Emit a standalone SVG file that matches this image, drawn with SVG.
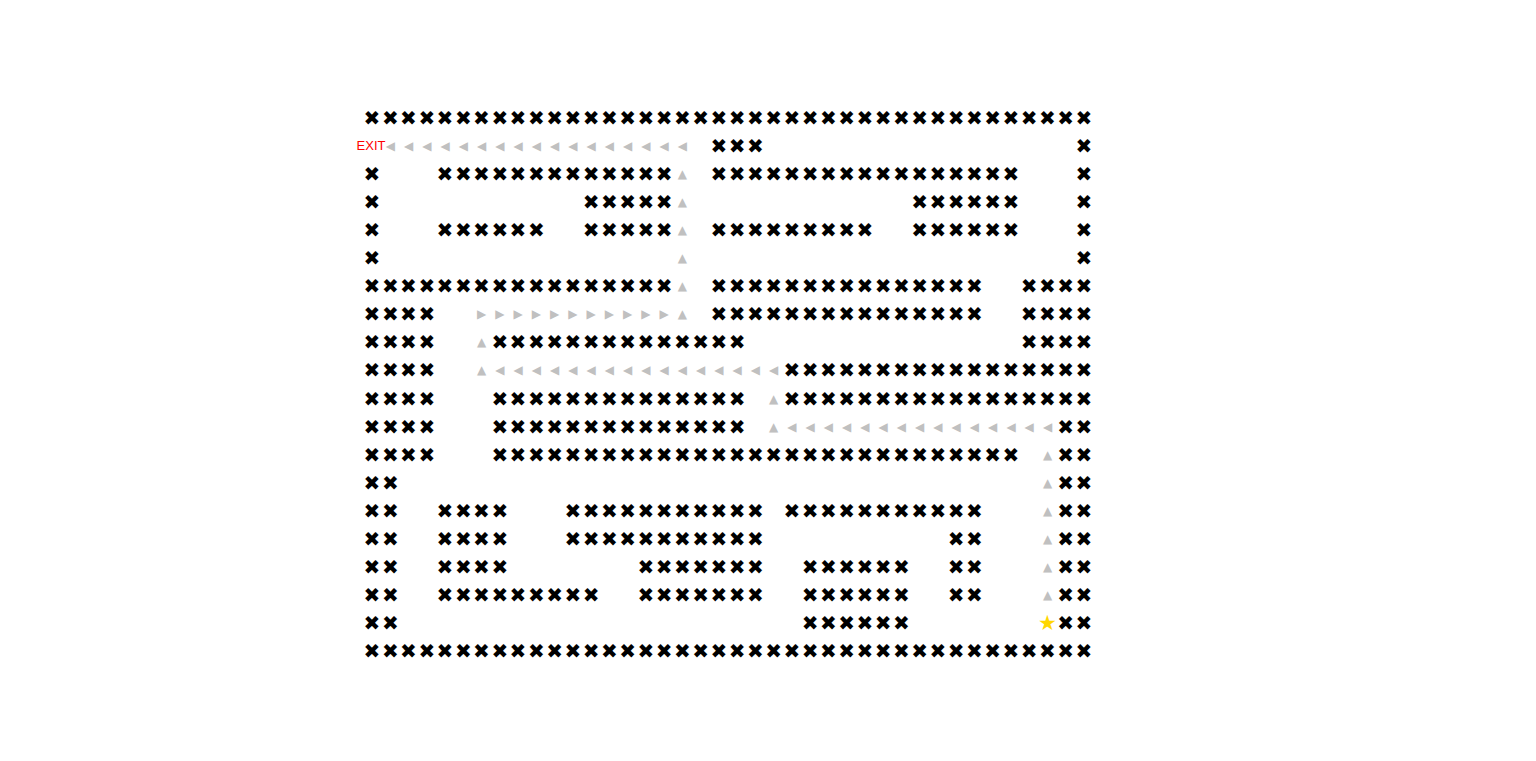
<svg xmlns="http://www.w3.org/2000/svg" width="1536" height="761" viewBox="0 0 1536 761">
<style>
.w{font-family:"DejaVu Sans",sans-serif;font-size:20px;fill:#000;text-anchor:middle;dominant-baseline:central}
.a{font-family:"DejaVu Sans",sans-serif;font-size:12px;fill:#c0c0c0;text-anchor:middle;dominant-baseline:central}
.s{font-family:"DejaVu Sans",sans-serif;font-size:21px;fill:#ffd700;text-anchor:middle;dominant-baseline:central}
.e{font-family:"Liberation Sans",Arial,sans-serif;font-size:13px;fill:#ff0000;text-anchor:middle;dominant-baseline:central}
</style>
<rect width="1536" height="761" fill="#fff"/>
<g id="walls">
<text class="w" y="118" x="372 390.3 408.5 426.8 445 463.3 481.5 499.8 518 536.3 554.6 572.8 591.1 609.3 627.6 645.8 664.1 682.4 700.6 718.9 737.1 755.4 773.6 791.9 810.1 828.4 846.7 864.9 883.2 901.4 919.7 937.9 956.2 974.4 992.7 1011 1029.2 1047.5 1065.7 1084">✖✖✖✖✖✖✖✖✖✖✖✖✖✖✖✖✖✖✖✖✖✖✖✖✖✖✖✖✖✖✖✖✖✖✖✖✖✖✖✖</text>

<text class="w" y="146.05" x="718.9 737.1 755.4">✖✖✖</text>
<text class="w" y="146.05" x="1084">✖</text>

<text class="w" y="174.1" x="372">✖</text>
<text class="w" y="174.1" x="445 463.3 481.5 499.8 518 536.3 554.6 572.8 591.1 609.3 627.6 645.8 664.1">✖✖✖✖✖✖✖✖✖✖✖✖✖</text>
<text class="w" y="174.1" x="718.9 737.1 755.4 773.6 791.9 810.1 828.4 846.7 864.9 883.2 901.4 919.7 937.9 956.2 974.4 992.7 1011">✖✖✖✖✖✖✖✖✖✖✖✖✖✖✖✖✖</text>
<text class="w" y="174.1" x="1084">✖</text>

<text class="w" y="202.15" x="372">✖</text>
<text class="w" y="202.15" x="591.1 609.3 627.6 645.8 664.1">✖✖✖✖✖</text>
<text class="w" y="202.15" x="919.7 937.9 956.2 974.4 992.7 1011">✖✖✖✖✖✖</text>
<text class="w" y="202.15" x="1084">✖</text>

<text class="w" y="230.2" x="372">✖</text>
<text class="w" y="230.2" x="445 463.3 481.5 499.8 518 536.3">✖✖✖✖✖✖</text>
<text class="w" y="230.2" x="591.1 609.3 627.6 645.8 664.1">✖✖✖✖✖</text>
<text class="w" y="230.2" x="718.9 737.1 755.4 773.6 791.9 810.1 828.4 846.7 864.9">✖✖✖✖✖✖✖✖✖</text>
<text class="w" y="230.2" x="919.7 937.9 956.2 974.4 992.7 1011">✖✖✖✖✖✖</text>
<text class="w" y="230.2" x="1084">✖</text>

<text class="w" y="258.25" x="372">✖</text>
<text class="w" y="258.25" x="1084">✖</text>

<text class="w" y="286.3" x="372 390.3 408.5 426.8 445 463.3 481.5 499.8 518 536.3 554.6 572.8 591.1 609.3 627.6 645.8 664.1">✖✖✖✖✖✖✖✖✖✖✖✖✖✖✖✖✖</text>
<text class="w" y="286.3" x="718.9 737.1 755.4 773.6 791.9 810.1 828.4 846.7 864.9 883.2 901.4 919.7 937.9 956.2 974.4">✖✖✖✖✖✖✖✖✖✖✖✖✖✖✖</text>
<text class="w" y="286.3" x="1029.2 1047.5 1065.7 1084">✖✖✖✖</text>

<text class="w" y="314.35" x="372 390.3 408.5 426.8">✖✖✖✖</text>
<text class="w" y="314.35" x="718.9 737.1 755.4 773.6 791.9 810.1 828.4 846.7 864.9 883.2 901.4 919.7 937.9 956.2 974.4">✖✖✖✖✖✖✖✖✖✖✖✖✖✖✖</text>
<text class="w" y="314.35" x="1029.2 1047.5 1065.7 1084">✖✖✖✖</text>

<text class="w" y="342.4" x="372 390.3 408.5 426.8">✖✖✖✖</text>
<text class="w" y="342.4" x="499.8 518 536.3 554.6 572.8 591.1 609.3 627.6 645.8 664.1 682.4 700.6 718.9 737.1">✖✖✖✖✖✖✖✖✖✖✖✖✖✖</text>
<text class="w" y="342.4" x="1029.2 1047.5 1065.7 1084">✖✖✖✖</text>

<text class="w" y="370.45" x="372 390.3 408.5 426.8">✖✖✖✖</text>
<text class="w" y="370.45" x="791.9 810.1 828.4 846.7 864.9 883.2 901.4 919.7 937.9 956.2 974.4 992.7 1011 1029.2 1047.5 1065.7 1084">✖✖✖✖✖✖✖✖✖✖✖✖✖✖✖✖✖</text>

<text class="w" y="398.5" x="372 390.3 408.5 426.8">✖✖✖✖</text>
<text class="w" y="398.5" x="499.8 518 536.3 554.6 572.8 591.1 609.3 627.6 645.8 664.1 682.4 700.6 718.9 737.1">✖✖✖✖✖✖✖✖✖✖✖✖✖✖</text>
<text class="w" y="398.5" x="791.9 810.1 828.4 846.7 864.9 883.2 901.4 919.7 937.9 956.2 974.4 992.7 1011 1029.2 1047.5 1065.7 1084">✖✖✖✖✖✖✖✖✖✖✖✖✖✖✖✖✖</text>

<text class="w" y="426.55" x="372 390.3 408.5 426.8">✖✖✖✖</text>
<text class="w" y="426.55" x="499.8 518 536.3 554.6 572.8 591.1 609.3 627.6 645.8 664.1 682.4 700.6 718.9 737.1">✖✖✖✖✖✖✖✖✖✖✖✖✖✖</text>
<text class="w" y="426.55" x="1065.7 1084">✖✖</text>

<text class="w" y="454.6" x="372 390.3 408.5 426.8">✖✖✖✖</text>
<text class="w" y="454.6" x="499.8 518 536.3 554.6 572.8 591.1 609.3 627.6 645.8 664.1 682.4 700.6 718.9 737.1 755.4 773.6 791.9 810.1 828.4 846.7 864.9 883.2 901.4 919.7 937.9 956.2 974.4 992.7 1011">✖✖✖✖✖✖✖✖✖✖✖✖✖✖✖✖✖✖✖✖✖✖✖✖✖✖✖✖✖</text>
<text class="w" y="454.6" x="1065.7 1084">✖✖</text>

<text class="w" y="482.65" x="372 390.3">✖✖</text>
<text class="w" y="482.65" x="1065.7 1084">✖✖</text>

<text class="w" y="510.7" x="372 390.3">✖✖</text>
<text class="w" y="510.7" x="445 463.3 481.5 499.8">✖✖✖✖</text>
<text class="w" y="510.7" x="572.8 591.1 609.3 627.6 645.8 664.1 682.4 700.6 718.9 737.1 755.4">✖✖✖✖✖✖✖✖✖✖✖</text>
<text class="w" y="510.7" x="791.9 810.1 828.4 846.7 864.9 883.2 901.4 919.7 937.9 956.2 974.4">✖✖✖✖✖✖✖✖✖✖✖</text>
<text class="w" y="510.7" x="1065.7 1084">✖✖</text>

<text class="w" y="538.75" x="372 390.3">✖✖</text>
<text class="w" y="538.75" x="445 463.3 481.5 499.8">✖✖✖✖</text>
<text class="w" y="538.75" x="572.8 591.1 609.3 627.6 645.8 664.1 682.4 700.6 718.9 737.1 755.4">✖✖✖✖✖✖✖✖✖✖✖</text>
<text class="w" y="538.75" x="956.2 974.4">✖✖</text>
<text class="w" y="538.75" x="1065.7 1084">✖✖</text>

<text class="w" y="566.8" x="372 390.3">✖✖</text>
<text class="w" y="566.8" x="445 463.3 481.5 499.8">✖✖✖✖</text>
<text class="w" y="566.8" x="645.8 664.1 682.4 700.6 718.9 737.1 755.4">✖✖✖✖✖✖✖</text>
<text class="w" y="566.8" x="810.1 828.4 846.7 864.9 883.2 901.4">✖✖✖✖✖✖</text>
<text class="w" y="566.8" x="956.2 974.4">✖✖</text>
<text class="w" y="566.8" x="1065.7 1084">✖✖</text>

<text class="w" y="594.85" x="372 390.3">✖✖</text>
<text class="w" y="594.85" x="445 463.3 481.5 499.8 518 536.3 554.6 572.8 591.1">✖✖✖✖✖✖✖✖✖</text>
<text class="w" y="594.85" x="645.8 664.1 682.4 700.6 718.9 737.1 755.4">✖✖✖✖✖✖✖</text>
<text class="w" y="594.85" x="810.1 828.4 846.7 864.9 883.2 901.4">✖✖✖✖✖✖</text>
<text class="w" y="594.85" x="956.2 974.4">✖✖</text>
<text class="w" y="594.85" x="1065.7 1084">✖✖</text>

<text class="w" y="622.9" x="372 390.3">✖✖</text>
<text class="w" y="622.9" x="810.1 828.4 846.7 864.9 883.2 901.4">✖✖✖✖✖✖</text>
<text class="w" y="622.9" x="1065.7 1084">✖✖</text>

<text class="w" y="651" x="372 390.3 408.5 426.8 445 463.3 481.5 499.8 518 536.3 554.6 572.8 591.1 609.3 627.6 645.8 664.1 682.4 700.6 718.9 737.1 755.4 773.6 791.9 810.1 828.4 846.7 864.9 883.2 901.4 919.7 937.9 956.2 974.4 992.7 1011 1029.2 1047.5 1065.7 1084">✖✖✖✖✖✖✖✖✖✖✖✖✖✖✖✖✖✖✖✖✖✖✖✖✖✖✖✖✖✖✖✖✖✖✖✖✖✖✖✖</text>
</g>
<g id="path">
<text class="a" y="146.05" x="390.3 408.5 426.8 445 463.3 481.5 499.8 518 536.3 554.6 572.8 591.1 609.3 627.6 645.8 664.1 682.4">◀◀◀◀◀◀◀◀◀◀◀◀◀◀◀◀◀</text>
<text class="a" y="174.1" x="682.4">▲</text>
<text class="a" y="202.15" x="682.4">▲</text>
<text class="a" y="230.2" x="682.4">▲</text>
<text class="a" y="258.25" x="682.4">▲</text>
<text class="a" y="286.3" x="682.4">▲</text>
<text class="a" y="314.35" x="481.5 499.8 518 536.3 554.6 572.8 591.1 609.3 627.6 645.8 664.1">▶▶▶▶▶▶▶▶▶▶▶</text>
<text class="a" y="314.35" x="682.4">▲</text>
<text class="a" y="342.4" x="481.5">▲</text>
<text class="a" y="370.45" x="481.5">▲</text>
<text class="a" y="370.45" x="499.8 518 536.3 554.6 572.8 591.1 609.3 627.6 645.8 664.1 682.4 700.6 718.9 737.1 755.4 773.6">◀◀◀◀◀◀◀◀◀◀◀◀◀◀◀◀</text>
<text class="a" y="398.5" x="773.6">▲</text>
<text class="a" y="426.55" x="773.6">▲</text>
<text class="a" y="426.55" x="791.9 810.1 828.4 846.7 864.9 883.2 901.4 919.7 937.9 956.2 974.4 992.7 1011 1029.2 1047.5">◀◀◀◀◀◀◀◀◀◀◀◀◀◀◀</text>
<text class="a" y="454.6" x="1047.5">▲</text>
<text class="a" y="482.65" x="1047.5">▲</text>
<text class="a" y="510.7" x="1047.5">▲</text>
<text class="a" y="538.75" x="1047.5">▲</text>
<text class="a" y="566.8" x="1047.5">▲</text>
<text class="a" y="594.85" x="1047.5">▲</text>
</g>
<g id="start"><text class="s" x="1047.5" y="622.9">★</text></g>
<g id="exit"><text class="e" x="371" y="145.5">EXIT</text></g>
</svg>
